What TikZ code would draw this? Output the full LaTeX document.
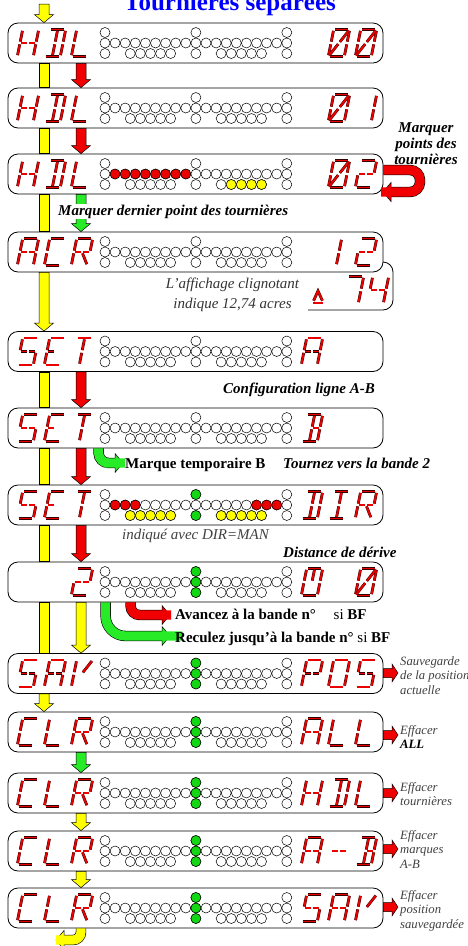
\documentclass[tikz,border=0pt]{standalone}
\usepackage{fontspec}
\setmainfont{Liberation Serif}
\usetikzlibrary{calc}

\definecolor{lcdred}{RGB}{235,0,0}
\definecolor{arrred}{RGB}{240,0,0}
\definecolor{arryel}{RGB}{255,255,0}
\definecolor{arrgrn}{RGB}{40,235,40}
\definecolor{ledgrn}{RGB}{20,215,20}
\definecolor{titblue}{RGB}{0,0,255}

\tikzset{
  disp/.style={draw, line width=0.8pt, rounded corners=10pt, fill=white,
    minimum width=375pt, minimum height=40pt, inner sep=0pt},
  seg/.style={draw=black!80!red, line width=0.45pt, double=lcdred,
    double distance=1.9pt, shorten <=1.4pt, shorten >=1.4pt},
  led/.style={draw, line width=0.5pt, fill=white},
  blk/.style={draw, line width=0.5pt},
  lbl/.style={font=\fontsize{15}{16}\selectfont\bfseries\itshape, inner sep=0pt},
  txt/.style={font=\fontsize{15}{16}\selectfont\bfseries, inner sep=0pt},
  note/.style={font=\fontsize{12.7}{14.8}\selectfont\itshape, text=black!75,
    align=left, inner sep=0pt, anchor=north west},
}

% segments of one display character
\def\sga{\draw[seg] (-8,-13.5) -- (8,-13.5);}
\def\sgb{\draw[seg] (8,-13.5) -- (8,0);}
\def\sgc{\draw[seg] (8,0) -- (8,13.5);}
\def\sgd{\draw[seg] (-8,13.5) -- (8,13.5);}
\def\sge{\draw[seg] (-8,0) -- (-8,13.5);}
\def\sgf{\draw[seg] (-8,-13.5) -- (-8,0);}
\def\sgg{\draw[seg] (-8,0) -- (0,0);}
\def\sgh{\draw[seg] (0,0) -- (8,0);}
\def\sgi{\draw[seg] (0,-13.5) -- (0,0);}
\def\sgj{\draw[seg] (0,0) -- (0,13.5);}
\def\sgk{\draw[seg] (0,0) -- (8,-13.5);}
\def\sgl{\draw[seg] (-8,13.5) -- (0,0);}
\def\sgn{\draw[seg] (0,0) -- (8,13.5);}

\def\lcA{a,b,c,e,f,g,h}
\def\lcB{a,b,c,d,h,i,j}
\def\lcC{a,d,e,f}
\def\lcD{a,b,c,d,i,j}
\def\lcE{a,d,e,f,g}
\def\lcH{b,c,e,f,g,h}
\def\lcI{a,d,i,j}
\def\lcL{d,e,f}
\def\lcO{a,b,c,d,e,f}
\def\lcP{a,b,e,f,g,h}
\def\lcR{a,b,e,f,g,h,n}
\def\lcS{a,c,d,f,g,h}
\def\lcT{a,i,j}
\def\lcV{e,f,k}
\def\lcZ{a,b,c,d,e,f,k,l}
\def\lcU{a,b,c,d,e,f,i}
\def\lcOne{b,c}
\def\lcOneC{i,j}
\def\lcTwo{a,b,d,e,g,h}
\def\lcFour{b,c,f,g,h}
\def\lcSeven{a,b,c}
\def\lcDash{g,h}

\newcommand{\segchar}[3]{%
  \if\relax\detokenize{#3}\relax\else
  \begin{scope}[shift={(#1,#2)}, xslant=0.2]
    \foreach \s in #3 {\csname sg\s\endcsname}
  \end{scope}\fi}

\newcommand{\ledgrid}[1]{%
  \foreach \i in {0,...,18} {\draw[led] (105+\i*10.1,#1) circle (5pt);}
  \foreach \i in {0,9,18} {\draw[led] (105+\i*10.1,#1-10.5) circle (5pt);
    \draw[led] (105+\i*10.1,#1+10.5) circle (5pt);}
  \foreach \i in {2.5,3.5,4.5,5.5,6.5,11.5,12.5,13.5,14.5,15.5}
    {\draw[led] (105+\i*10.1,#1+10.5) circle (5pt);}}

\newcommand{\ledon}[4]{% y, dy, colour, positions
  \foreach \i in {#4} {\draw[led, fill=#3] ({105+\i*10.1},{#1+(#2)}) circle (5pt);}}
\newcommand{\ledmid}[1]{\ledon{#1}{-10.5}{ledgrn}{9}\ledon{#1}{0}{ledgrn}{9}\ledon{#1}{10.5}{ledgrn}{9}}

\newcommand{\lcdrow}[8]{%
  \node[disp] (#1) at (195.5,#2) {};
  \ledgrid{#2}
  \segchar{28}{#2}{#3}\segchar{55}{#2}{#4}\segchar{82}{#2}{#5}
  \segchar{312}{#2}{#6}\segchar{339}{#2}{#7}\segchar{366}{#2}{#8}}

% block arrows
\newcommand{\downblk}[3]{%
  \filldraw[blk, fill=#1] let \p1=(#2), \p2=(#3) in
    (\x1-5pt,\y1) -- (\x1-5pt,\y2+8pt) -- (\x1-9.5pt,\y2+8pt) -- (\x1,\y2)
    -- (\x1+9.5pt,\y2+8pt) -- (\x1+5pt,\y2+8pt) -- (\x1+5pt,\y1) -- cycle;}
\newcommand{\shaftblk}[3]{%
  \filldraw[blk, fill=#1] let \p1=(#2), \p2=(#3) in
    (\x1-5pt,\y1) rectangle (\x1+5pt,\y2);}
\newcommand{\sideblk}[3]{%
  \filldraw[blk, fill=#1] let \p1=(#2), \p2=(#3) in
    (\x1,\y2+4.5pt) -- (\x2-6pt,\y2+4.5pt) -- (\x2-6pt,\y2+9pt) -- (\x2,\y2)
    -- (\x2-6pt,\y2-9pt) -- (\x2-6pt,\y2-4.5pt) -- (\x1,\y2-4.5pt) -- cycle;}
\newcommand{\bentblk}[5]{% colour, path to head base, head base, direction, radius
  \draw[line width=10.4pt, rounded corners=#5pt] #2;
  \filldraw[blk, fill=#1] let \p1=(#3) in
    (\x1,\y1+9.5pt) -- ({\x1+(#4)*8pt},\y1) -- (\x1,\y1-9.5pt) -- cycle;
  \draw[line width=9.2pt, rounded corners=#5pt, draw=#1] #2 -- ++({(#4)*1.2},0);}

\begin{document}
\begin{tikzpicture}[x=1pt, y=-1pt]
\useasboundingbox (0,0) rectangle (467,946);

\node[font=\fontsize{25}{28}\selectfont\bfseries, text=titblue, anchor=base]
  (title) at (230,10) {Tournières séparées};

% displays
\lcdrow{hdlA}{43}{\lcH}{\lcD}{\lcL}{}{\lcZ}{\lcZ}
\lcdrow{hdlB}{108}{\lcH}{\lcD}{\lcL}{}{\lcZ}{\lcOne}
\lcdrow{hdlC}{174}{\lcH}{\lcD}{\lcL}{}{\lcZ}{\lcTwo}
\ledon{174}{0}{lcdred}{1,...,8}
\ledon{174}{10.5}{arryel}{12.5,13.5,14.5,15.5}

% flashing part of the display
\draw[line width=0.8pt, rounded corners=10pt] (308,310) -- (393,310) -- (393,262) -- (372,262);
\segchar{353}{290}{\lcSeven}\segchar{378}{290}{\lcFour}
\draw[seg] (312,303) -- (324,303);
\draw[seg] (313,302) -- (318,291) -- (323,302);

\lcdrow{acr}{252}{\lcA}{\lcC}{\lcR}{}{\lcOneC}{\lcTwo}
\lcdrow{setA}{351.5}{\lcS}{\lcE}{\lcT}{\lcA}{}{}
\lcdrow{setB}{428}{\lcS}{\lcE}{\lcT}{\lcB}{}{}
\lcdrow{setDir}{505}{\lcS}{\lcE}{\lcT}{\lcD}{\lcI}{\lcR}
\ledon{505}{0}{lcdred}{1,2,3,15,16,17}
\ledon{505}{10.5}{arryel}{2.5,3.5,4.5,5.5,6.5,11.5,12.5,13.5,14.5,15.5}
\ledon{505}{-10.5}{ledgrn}{9}\ledon{505}{10.5}{ledgrn}{9}
\lcdrow{drift}{582}{}{}{\lcTwo}{\lcU}{}{\lcZ}
\ledmid{582}
\lcdrow{savPos}{673.5}{\lcS}{\lcA}{\lcV}{\lcP}{\lcO}{\lcS}
\ledmid{673.5}
\lcdrow{clrAll}{732}{\lcC}{\lcL}{\lcR}{\lcA}{\lcL}{\lcL}
\ledmid{732}
\lcdrow{clrHdl}{793}{\lcC}{\lcL}{\lcR}{\lcH}{\lcD}{\lcL}
\ledmid{793}
\lcdrow{clrAB}{851}{\lcC}{\lcL}{\lcR}{\lcA}{\lcDash}{\lcB}
\ledmid{851}
\lcdrow{clrSav}{908}{\lcC}{\lcL}{\lcR}{\lcS}{\lcA}{\lcV}
\ledmid{908}

% lanes
\coordinate (yl) at (44,0);
\coordinate (rl) at (81,0);
\coordinate (top) at (44,4);

% yellow lane
\downblk{arryel}{top}{hdlA.north -| yl}
\shaftblk{arryel}{hdlA.south -| yl}{hdlB.north -| yl}
\shaftblk{arryel}{hdlB.south -| yl}{hdlC.north -| yl}
\shaftblk{arryel}{hdlC.south -| yl}{acr.north -| yl}
\downblk{arryel}{acr.south -| yl}{setA.north -| yl}
\shaftblk{arryel}{setA.south -| yl}{setB.north -| yl}
\shaftblk{arryel}{setB.south -| yl}{setDir.north -| yl}
\shaftblk{arryel}{setDir.south -| yl}{drift.north -| yl}
\shaftblk{arryel}{drift.south -| yl}{savPos.north -| yl}
\downblk{arryel}{savPos.south -| yl}{clrAll.north -| yl}

% second lane
\downblk{arrred}{hdlA.south -| rl}{hdlB.north -| rl}
\downblk{arrred}{hdlB.south -| rl}{hdlC.north -| rl}
\downblk{arrgrn}{hdlC.south -| rl}{acr.north -| rl}
\downblk{arrred}{setA.south -| rl}{setB.north -| rl}
\downblk{arrred}{setB.south -| rl}{setDir.north -| rl}
\downblk{arrred}{setDir.south -| rl}{drift.north -| rl}
\downblk{arryel}{drift.south -| rl}{savPos.north -| rl}
\downblk{arrgrn}{clrAll.south -| rl}{clrHdl.north -| rl}
\downblk{arryel}{clrHdl.south -| rl}{clrAB.north -| rl}
\downblk{arryel}{clrAB.south -| rl}{clrSav.north -| rl}

% bent arrows
\coordinate (uturn) at (420,192);
\coordinate (uBase) at (391,192);
\coordinate (gBaseA) at (115,463);
\coordinate (rBase) at (162,615);
\coordinate (gBaseB) at (162,636);
\coordinate (yBase) at (64,940);
\bentblk{arrred}{($(hdlC.east)+(0,-4)$) -| (uturn) -- (uBase)}{uBase}{-1}{10}
\bentblk{arrgrn}{($(setB.south west)+(91,0)$) |- (gBaseA)}{gBaseA}{1}{10}
\bentblk{arrred}{($(drift.south west)+(123,0)$) |- (rBase)}{rBase}{1}{9}
\bentblk{arrgrn}{($(drift.south west)+(98,0)$) |- (gBaseB)}{gBaseB}{1}{20}
\bentblk{arryel}{(clrSav.south -| rl) |- (yBase)}{yBase}{-1}{8}

% side arrows
\coordinate (savTip) at (398,673);
\coordinate (allTip) at (398,735);
\coordinate (hdlTip) at (398,793);
\coordinate (abTip) at (398,849);
\coordinate (svTip) at (398,907);
\sideblk{arrred}{savPos.east}{savTip}
\sideblk{arrred}{clrAll.east}{allTip}
\sideblk{arrred}{clrHdl.east}{hdlTip}
\sideblk{arrred}{clrAB.east}{abTip}
\sideblk{arrred}{clrSav.east}{svTip}

% labels
\node[lbl, align=center, anchor=north] (markTxt) at (426,122) {Marquer\\points des\\tournières};
\node[lbl, anchor=base west, fill=white, inner sep=1pt] (lastTxt) at (57,215)
  {Marquer dernier point des tournières};
\node[font=\fontsize{15}{20}\selectfont\itshape, text=black!80, align=center,
  anchor=north, inner sep=0pt] (flashTxt) at (232.5,278)
  {L'affichage clignotant\\indique 12,74 acres};
\node[lbl, anchor=base west] (cfgTxt) at (223,393) {Configuration ligne A-B};
\node[txt, anchor=base west] (tmpTxt) at (125,468) {Marque temporaire B};
\node[lbl, anchor=base west] (turnTxt) at (283,468) {Tournez vers la bande 2};
\node[font=\fontsize{15}{16}\selectfont\itshape, text=black!75, anchor=base,
  inner sep=0pt] (dirTxt) at (195.5,539) {indiqué avec DIR=MAN};
\node[lbl, anchor=base west] (driftTxt) at (283,557) {Distance de dérive};
\node[txt, anchor=base west] (fwdTxt) at (175,619)
  {Avancez à la bande n°\hspace{14pt} {\mdseries si} BF};
\node[txt, anchor=base west] (backTxt) at (175,642)
  {Reculez jusqu'à la bande n° {\mdseries si} BF};

\node[note] (savTxt) at (400,656) {Sauvegarde\\de la position\\actuelle};
\node[note] (allTxt) at (400,725) {Effacer\\{\color{black}\bfseries ALL}};
\node[note] (hdlTxt) at (400,782) {Effacer\\tournières};
\node[note] (abTxt) at (400,830) {Effacer\\marques\\A-B};
\node[note] (svTxt) at (400,890) {Effacer\\position\\sauvegardée};
\end{tikzpicture}
\end{document}
